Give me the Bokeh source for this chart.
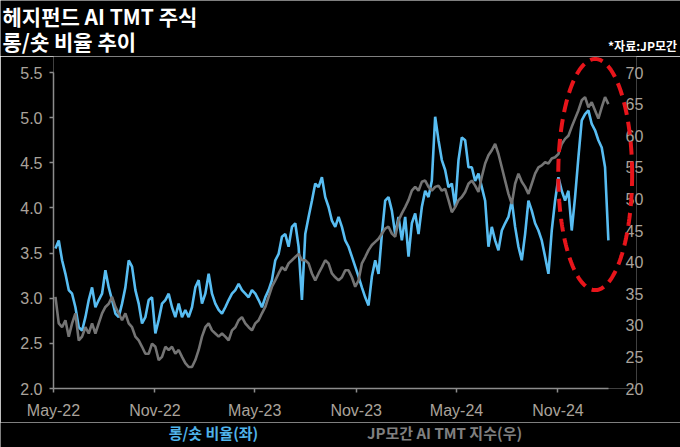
import numpy as np
import pandas as pd
from datetime import datetime
from bokeh.plotting import figure
from bokeh.layouts import column
from bokeh.models import (Range1d, LinearAxis, FixedTicker, NumeralTickFormatter,
                          Label, PolyAnnotation)
from bokeh.embed import file_html
from bokeh.resources import INLINE

# ---- data (roughly every 6 days) ----
start_date = "2022-05-04 12:00"
step = "145h"

long_short_ratio = [
    3.55, 3.64, 3.42, 3.27, 3.09, 3.05, 2.90, 2.68, 2.64, 2.79,
    2.98, 3.12, 2.90, 2.98, 3.05, 3.31, 3.12, 2.98, 2.83, 2.79,
    2.94, 3.12, 3.42, 3.35, 3.09, 2.94, 2.72, 2.79, 2.98, 3.01,
    2.61, 2.76, 2.94, 2.98, 3.05, 2.90, 2.79, 2.94, 2.79, 2.87,
    2.79, 2.90, 3.12, 3.20, 2.94, 3.05, 3.27, 3.05, 2.94, 2.87,
    2.83, 2.90, 2.98, 3.05, 3.09, 3.16, 3.09, 3.05, 3.01, 3.09,
    3.05, 2.98, 2.90, 3.01, 3.09, 3.20, 3.42, 3.49, 3.68, 3.71,
    3.57, 3.79, 3.83, 3.57, 2.98, 3.71, 3.90, 4.08, 4.27, 4.23,
    4.34, 4.12, 4.01, 3.86,
    3.79, 3.90, 3.79, 3.64, 3.57, 3.46, 3.35, 3.24, 3.12, 3.01,
    2.92, 3.24, 3.42, 3.27, 3.71, 4.08, 4.12, 3.97, 3.71, 3.90,
    3.64, 3.90, 3.46, 3.83, 3.94, 3.71, 4.01, 4.19, 4.12, 4.30,
    5.01, 4.75, 4.53, 4.42, 4.23, 4.27, 4.01, 4.53, 4.78, 4.75,
    4.45, 4.45, 4.30, 4.38, 4.23, 4.08, 3.57, 3.79, 3.64, 3.53,
    3.75, 3.83, 3.90, 4.08, 3.79, 3.57, 3.42, 3.71, 4.08, 3.97,
    3.83, 3.75, 3.64, 3.46, 3.27, 3.75, 4.08, 4.34, 4.19, 4.08,
    4.19, 3.75, 4.12, 4.56, 4.97, 5.04, 5.08, 4.93, 4.86, 4.75,
    4.67, 4.45, 3.64,
]

jpm_ai_tmt_index = [
    34.5, 30.3, 29.7, 30.8, 28.2, 30.3, 31.9, 27.6, 28.2, 29.7,
    28.7, 30.3, 28.7, 30.3, 31.9, 32.9, 33.4, 34.5, 32.9, 31.9,
    30.8, 31.9, 30.3, 29.7, 28.2, 27.6, 26.6, 25.5, 25.5, 27.1,
    26.6, 24.5, 25.0, 26.6, 26.1, 26.6, 25.5, 26.1, 25.0, 24.0,
    23.4, 23.4, 24.5, 26.1, 28.2, 29.7, 30.3, 29.2, 28.7, 28.2,
    28.7, 28.2, 27.6, 29.2, 29.7, 30.8, 31.3, 30.3, 29.7, 29.2,
    30.3, 30.8, 31.9, 32.9, 34.5, 36.1, 37.1, 38.2, 39.2, 38.7,
    39.8, 40.3, 40.8, 41.3, 40.3, 40.3, 39.8, 38.2, 37.1, 38.2,
    39.2, 40.3, 39.8, 38.2,
    37.6, 37.1, 37.6, 38.7, 38.7, 37.6, 36.1, 37.1, 39.8, 40.8,
    41.9, 42.7, 43.2, 43.7, 44.5, 45.3, 45.6, 44.5, 44.0, 46.6,
    47.7, 48.7, 49.8, 51.3, 51.9, 51.3, 52.7, 52.9, 51.9, 51.3,
    51.9, 52.1, 51.3, 51.6, 49.8, 47.9, 48.7, 49.8, 50.3, 51.1,
    52.4, 52.9, 52.1, 51.1, 53.5, 55.6, 56.9, 57.7, 58.7, 57.1,
    55.0, 52.9, 50.8, 49.2, 52.4, 54.0, 52.7, 51.9, 50.8, 52.4,
    54.0, 55.0, 55.3, 55.8, 55.6, 56.4, 56.6, 57.1, 58.7, 59.5,
    60.0, 61.4, 62.7, 64.0, 65.6, 66.1, 64.5, 65.3, 64.0, 62.7,
    64.5, 66.1, 65.0,
]

tick_dates = ["2022-05-01", "2022-11-01", "2023-05-01", "2023-11-01", "2024-05-01", "2024-11-01"]
tick_labels = ["May-22", "Nov-22", "May-23", "Nov-23", "May-24", "Nov-24"]
left_ticks = [2.0, 2.5, 3.0, 3.5, 4.0, 4.5, 5.0, 5.5]
right_ticks = [20, 25, 30, 35, 40, 45, 50, 55, 60, 65, 70]

title_lines = ["헤지펀드 AI TMT 주식", "롱/숏 비율 추이"]
source_text = "*자료:JP모간"
legend_ratio = "롱/숏 비율(좌)"
legend_index = "JP모간 AI TMT 지수(우)"

# highlight ellipse (annotation)
ell_center_date = "2025-01-07 12:00"
ell_center_val = 4.37
ell_half_days = 67
ell_half_val = 1.28

BLUE = "#58bdf2"
GRAY = "#747474"
RED = "#e8151b"
TICK_COLOR = "#aaa39b"
AXIS_COLOR = "#8c8c8c"
KFONT = "Noto Sans CJK KR"
W = 680
TOP_H = 56
BOT_H = 25
MAIN_H = 447 - TOP_H - BOT_H


def no_frame_align(f):
    try:
        f.frame_align = False
    except Exception:
        pass


def text_strip(h):
    f = figure(width=W, height=h, output_backend="svg", toolbar_location=None,
               x_range=Range1d(0, W), y_range=Range1d(h, 0),
               x_axis_location=None, y_axis_location=None,
               min_border=0, min_border_left=0, min_border_right=0,
               min_border_top=0, min_border_bottom=0,
               background_fill_color="black", border_fill_color="black",
               outline_line_color=None)
    f.xgrid.visible = False
    f.ygrid.visible = False
    no_frame_align(f)
    return f


# ---- top strip: title and source ----
top = text_strip(TOP_H)
top.add_layout(Label(x=2, y=15, text=title_lines[0], text_color="white", text_font=KFONT,
                     text_font_style="bold", text_font_size="21px",
                     text_baseline="middle", text_align="left"))
top.add_layout(Label(x=2, y=40, text=title_lines[1], text_color="white", text_font=KFONT,
                     text_font_style="bold", text_font_size="21px",
                     text_baseline="middle", text_align="left"))
top.add_layout(Label(x=642, y=45, text=source_text, text_color="white", text_font=KFONT,
                     text_font_style="bold", text_font_size="12px",
                     text_baseline="middle", text_align="center"))

# ---- main chart ----
px_per_unit = 316 / 3.5
frame_top_val = 5.5 + (72 - TOP_H) / px_per_unit
right_top_val = 20 + (frame_top_val - 2.0) * 50 / 3.5

dates = pd.date_range(start_date, periods=len(long_short_ratio), freq=step)

p = figure(width=W, height=MAIN_H, x_axis_type="datetime", output_backend="svg",
           toolbar_location=None,
           x_range=Range1d(datetime(2022, 5, 1), datetime(2025, 3, 23, 10)),
           y_range=Range1d(2.0, frame_top_val),
           min_border_left=53, min_border_right=44, min_border_top=0,
           min_border_bottom=MAIN_H - (388 - TOP_H),
           background_fill_color="black", border_fill_color="black",
           outline_line_color=None)
p.xgrid.visible = False
p.ygrid.visible = False
no_frame_align(p)

p.extra_y_ranges = {"idx": Range1d(20, right_top_val)}
raxis = LinearAxis(y_range_name="idx", ticker=FixedTicker(ticks=right_ticks))
p.add_layout(raxis, "right")

tick_ms = [pd.Timestamp(d).value / 1e6 for d in tick_dates]
p.xaxis.ticker = FixedTicker(ticks=tick_ms)
p.xaxis.major_label_overrides = {t: l for t, l in zip(tick_ms, tick_labels)}
p.xaxis.bounds = (datetime(2022, 5, 1), datetime(2025, 2, 1))
p.yaxis[0].ticker = FixedTicker(ticks=left_ticks)
p.yaxis[0].formatter = NumeralTickFormatter(format="0.0")
p.yaxis[0].bounds = (2.0, 5.5)
raxis.bounds = (20, 70)

for ax in [p.xaxis[0], p.yaxis[0], raxis]:
    ax.axis_line_color = AXIS_COLOR
    ax.axis_line_width = 1.5
    ax.major_tick_line_color = AXIS_COLOR
    ax.major_tick_line_width = 1.5
    ax.major_tick_out = 4
    ax.major_tick_in = 0
    ax.minor_tick_line_color = None
    ax.major_label_text_color = TICK_COLOR
    ax.major_label_text_font = "Liberation Sans"
    ax.major_label_text_font_size = "16px"
p.yaxis[0].major_label_standoff = 7
p.xaxis[0].major_label_standoff = 9
raxis.axis_line_color = None
raxis.major_tick_line_color = None
raxis.major_tick_out = 0
raxis.major_label_standoff = -11

p.line(dates, long_short_ratio, line_color=BLUE, line_width=2.6)
p.line(dates, jpm_ai_tmt_index, y_range_name="idx", line_color=GRAY, line_width=2.6)

# dashed red ellipse
t = np.linspace(0, 2 * np.pi, 241)
cx = pd.Timestamp(ell_center_date).value / 1e6
half_ms = ell_half_days * 86400000.0
ell = PolyAnnotation(xs=list(cx + half_ms * np.cos(t)),
                     ys=list(ell_center_val + ell_half_val * np.sin(t)),
                     fill_color=None, fill_alpha=0, line_color=RED, line_alpha=1.0,
                     line_width=4, line_dash="13 7")
p.add_layout(ell)

# ---- bottom strip: legend texts ----
bot = text_strip(BOT_H)
bot.add_layout(Label(x=213, y=10, text=legend_ratio, text_color="#4fb3ea", text_font=KFONT,
                     text_font_style="bold", text_font_size="15px",
                     text_baseline="middle", text_align="center"))
bot.add_layout(Label(x=444, y=10, text=legend_index, text_color="#808080", text_font=KFONT,
                     text_font_style="bold", text_font_size="15px",
                     text_baseline="middle", text_align="center"))

layout = column(top, p, bot, spacing=0)
open("out.html", "w").write(file_html(layout, INLINE))
